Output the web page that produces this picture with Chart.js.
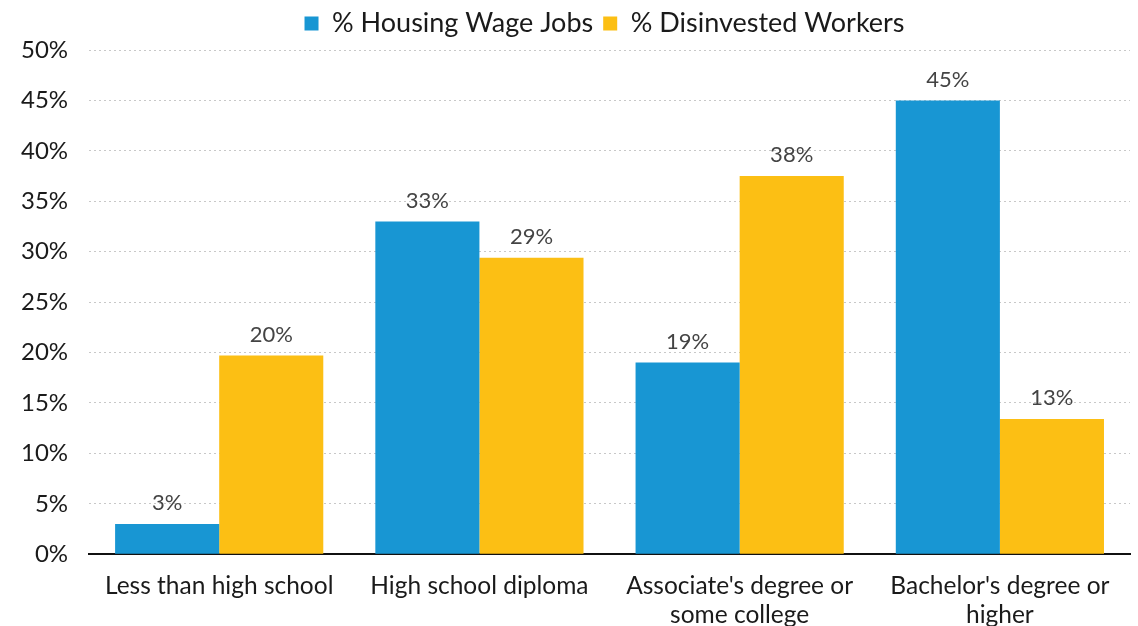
<!DOCTYPE html>
<html>
<head>
<meta charset="utf-8">
<script src="https://cdn.jsdelivr.net/npm/chart.js@4/dist/chart.umd.min.js"></script>
<style>
  html, body { margin: 0; padding: 0; background: #fff; overflow: hidden; }
  #wrap { width: 1138px; height: 647px; position: relative; }
</style>
</head>
<body>
<div id="wrap"><canvas id="c"></canvas></div>
<script>
const categories = [
  "Less than high school",
  "High school diploma",
  ["Associate's degree or", "some college"],
  ["Bachelor's degree or", "higher"]
];
const housingWageJobs = [3, 33, 19, 45];
const disinvestedWorkers = [19.7, 29.4, 37.5, 13.4];
const yTicks = [0, 5, 10, 15, 20, 25, 30, 35, 40, 45, 50];

const valueLabels = {
  id: 'valueLabels',
  afterDatasetsDraw(chart) {
    const ctx = chart.ctx;
    ctx.save();
    ctx.font = '22px Lato';
    ctx.fillStyle = '#444444';
    ctx.textAlign = 'center';
    ctx.textBaseline = 'bottom';
    chart.data.datasets.forEach((ds, i) => {
      const meta = chart.getDatasetMeta(i);
      meta.data.forEach((bar, j) => {
        ctx.fillText(Math.round(ds.data[j]) + '%', bar.x, bar.y - 10);
      });
    });
    ctx.restore();
  }
};

// centre the legend over the plot area rather than the whole canvas
const legendOverPlot = {
  id: 'legendOverPlot',
  afterLayout(chart) {
    const lg = chart.legend;
    const shift = (chart.chartArea.left + chart.chartArea.right) / 2 - (lg.left + lg.right) / 2 - 5;
    lg.left += shift;
    lg.right += shift;
    lg.top -= 3;
    lg.bottom -= 3;
    if (lg.legendHitBoxes) lg.legendHitBoxes.forEach(b => { b.left += shift; b.top -= 3; });
  }
};

new Chart(document.getElementById('c'), {
  type: 'bar',
  data: {
    labels: categories,
    datasets: [
      { label: '% Housing Wage Jobs', data: housingWageJobs, backgroundColor: '#1896d3' },
      { label: '% Disinvested Workers', data: disinvestedWorkers, backgroundColor: '#fcbf14' }
    ]
  },
  options: {
    responsive: true,
    maintainAspectRatio: false,
    animation: false,
    layout: { padding: { left: 0, right: 8, top: 3, bottom: 0 } },
    datasets: { bar: { categoryPercentage: 0.8, barPercentage: 1.0 } },
    plugins: {
      legend: {
        position: 'top',
        labels: {
          font: { family: 'Lato', size: 27 },
          color: '#1a1a1a',
          boxWidth: 14,
          boxHeight: 14,
          padding: 10
        }
      },
      tooltip: { enabled: false }
    },
    scales: {
      x: {
        grid: { display: false, drawTicks: false },
        border: { color: '#111111', width: 2 },
        ticks: {
          font: { family: 'Lato', size: 24.5 },
          color: '#1a1a1a',
          padding: 17,
          maxRotation: 0
        }
      },
      y: {
        min: 0,
        max: 50,
        afterBuildTicks(axis) { axis.ticks = yTicks.map(v => ({ value: v })); },
        grid: {
          color: ctx => ctx.tick && ctx.tick.value === 0 ? 'rgba(0,0,0,0)' : '#c8c8c8',
          drawTicks: false,
          lineWidth: 1
        },
        border: { display: false, dash: [2, 3] },
        ticks: {
          font: { family: 'Lato', size: 24 },
          color: '#1a1a1a',
          padding: 21,
          callback: v => v + '%'
        }
      }
    }
  },
  plugins: [valueLabels, legendOverPlot]
});
</script>
</body>
</html>
